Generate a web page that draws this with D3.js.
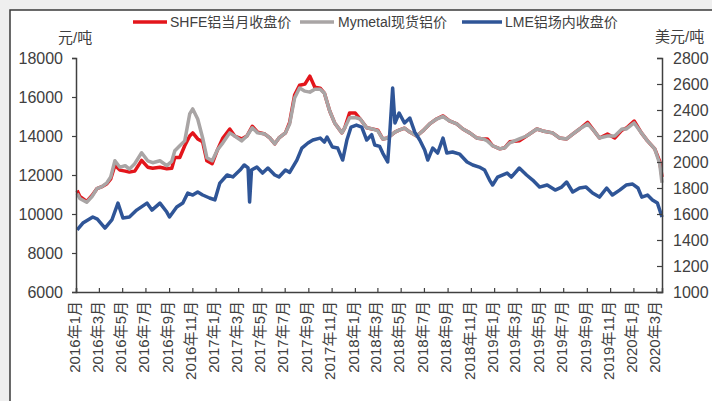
<!DOCTYPE html>
<html>
<head>
<meta charset="utf-8">
<script src="https://cdn.jsdelivr.net/npm/d3@7"></script>
<style>
  body { margin: 0; background: #efefef; }
  svg { display: block; font-family: "Liberation Sans", "Noto Sans CJK SC", sans-serif; }
</style>
</head>
<body>
<script>
// chart data
const shfeDates = ["2016-01-04","2016-01-11","2016-01-29","2016-02-12","2016-02-25","2016-03-09","2016-03-22","2016-04-01","2016-04-12","2016-04-25",
  "2016-05-09","2016-05-20","2016-06-03","2016-06-21","2016-07-07","2016-07-20","2016-08-08","2016-08-26","2016-09-08","2016-09-16",
  "2016-09-29","2016-10-12","2016-10-25","2016-11-02","2016-11-15","2016-11-28","2016-12-09","2016-12-23","2017-01-06","2017-01-20",
  "2017-02-07","2017-02-20","2017-03-10","2017-03-24","2017-04-07","2017-04-21","2017-05-10","2017-05-23","2017-06-05","2017-06-16",
  "2017-07-03","2017-07-14","2017-07-27","2017-08-09","2017-08-23","2017-09-05","2017-09-18","2017-10-02","2017-10-13","2017-10-27",
  "2017-11-09","2017-11-28","2017-12-05","2017-12-18","2018-01-02","2018-01-15","2018-02-01","2018-02-16","2018-03-02","2018-03-15",
  "2018-03-28","2018-04-16","2018-04-27","2018-05-11","2018-05-25","2018-06-12","2018-06-28","2018-07-16","2018-08-03","2018-08-20",
  "2018-09-06","2018-09-25","2018-10-11","2018-10-29","2018-11-16","2018-12-03","2018-12-14","2018-12-28","2019-01-16","2019-01-29",
  "2019-02-11","2019-03-08","2019-03-27","2019-04-23","2019-05-08","2019-06-03","2019-06-21","2019-07-10","2019-07-26","2019-08-13",
  "2019-09-03","2019-09-20","2019-10-04","2019-10-25","2019-11-13","2019-12-02","2019-12-13","2020-01-03","2020-01-22","2020-02-07",
  "2020-02-26","2020-03-10","2020-03-16"];

const shfe = [11200,10900,10650,10950,11300,11400,11550,11800,12500,12250,
  12200,12150,12200,12750,12400,12350,12400,12320,12350,12900,
  12900,13500,14000,14160,13850,13700,12730,12580,13300,13900,
  14360,14000,13850,14000,14500,14200,14100,13900,13600,13900,
  14160,14700,16100,16600,16660,17070,16500,16450,16200,15280,
  14670,14160,14400,15180,15180,14870,14420,14360,14300,13850,
  13900,14200,14300,14400,14200,14000,14260,14620,14870,15030,
  14770,14620,14360,14160,13900,13850,13850,13500,13340,13400,
  13700,13750,14000,14360,14260,14160,13900,13850,14100,14360,
  14700,14260,13900,14100,13900,14300,14400,14770,14160,13750,
  13340,12700,11900];

const mymetal = [11050,10800,10600,10900,11300,11400,11600,11900,12730,12400,
  12480,12300,12580,13140,12730,12630,12730,12480,12700,13240,
  13500,13750,15130,15390,14870,13900,12890,12730,13300,13650,
  14160,14000,13750,14000,14420,14160,14100,13900,13600,13900,
  14160,14620,15950,16460,16300,16250,16400,16400,16200,15280,
  14670,14160,14400,14930,14950,14870,14420,14360,14260,13850,
  13900,14200,14300,14400,14200,14000,14260,14620,14870,15000,
  14770,14620,14360,14160,13900,13850,13750,13500,13340,13400,
  13650,13850,14000,14360,14260,14160,13900,13850,14100,14360,
  14620,14260,13900,14000,14000,14360,14360,14670,14160,13750,
  13340,12580,11600];

const lmeDates = ["2016-01-04","2016-01-19","2016-02-14","2016-02-26","2016-03-17","2016-04-04","2016-04-20","2016-05-03","2016-05-20","2016-06-08",
  "2016-07-05","2016-07-18","2016-08-08","2016-08-26","2016-09-02","2016-09-21","2016-10-07","2016-10-20","2016-11-02","2016-11-15",
  "2016-11-28","2016-12-16","2016-12-30","2017-01-12","2017-01-31","2017-02-15","2017-03-06","2017-03-17","2017-03-27","2017-03-31",
  "2017-04-05","2017-04-19","2017-05-04","2017-05-18","2017-06-05","2017-06-16","2017-07-03","2017-07-14","2017-08-02","2017-08-15",
  "2017-08-31","2017-09-13","2017-10-02","2017-10-13","2017-10-20","2017-11-03","2017-11-17","2017-11-30","2017-12-11","2017-12-22",
  "2018-01-05","2018-01-19","2018-02-01","2018-02-14","2018-02-22","2018-03-07","2018-03-15","2018-03-28","2018-04-02","2018-04-10",
  "2018-04-16","2018-04-27","2018-05-11","2018-05-25","2018-06-07","2018-06-20","2018-07-03","2018-07-11","2018-07-24","2018-08-06",
  "2018-08-20","2018-08-30","2018-09-14","2018-10-03","2018-10-22","2018-11-06","2018-11-23","2018-12-07","2018-12-20","2018-12-28",
  "2019-01-10","2019-02-04","2019-02-15","2019-03-08","2019-03-27","2019-04-12","2019-04-30","2019-05-20","2019-06-10","2019-06-27",
  "2019-07-10","2019-07-26","2019-08-13","2019-08-30","2019-09-16","2019-10-04","2019-10-23","2019-11-07","2019-11-26","2019-12-13",
  "2019-12-30","2020-01-13","2020-01-23","2020-02-07","2020-02-20","2020-03-04","2020-03-16"];

const lme = [1477,1530,1577,1560,1492,1554,1684,1569,1577,1630,
  1684,1630,1684,1615,1577,1654,1684,1761,1746,1769,
  1746,1723,1708,1838,1900,1885,1938,1977,1954,1692,
  1938,1961,1915,1954,1900,1885,1938,1920,2015,2107,
  2146,2169,2184,2153,2192,2115,2107,2015,2169,2269,
  2284,2269,2169,2210,2131,2120,2069,2000,2200,2569,
  2300,2377,2300,2338,2230,2169,2092,2015,2107,2069,
  2184,2069,2077,2060,2000,1977,1961,1938,1861,1823,
  1884,1915,1884,1954,1900,1861,1807,1823,1784,1807,
  1846,1769,1800,1807,1761,1730,1800,1746,1784,1823,
  1830,1800,1730,1746,1708,1684,1577];

const leftTicks = [6000, 8000, 10000, 12000, 14000, 16000, 18000];
const rightTicks = [1000, 1200, 1400, 1600, 1800, 2000, 2200, 2400, 2600, 2800];

const seriesNames = ["SHFE铝当月收盘价", "Mymetal现货铝价", "LME铝场内收盘价"];
const seriesColors = ["#e3151b", "#a9a5a5", "#2f5597"];

// layout
const width = 712, height = 401;
const plotLeft = 76, plotRight = 662, plotTop = 58, plotBottom = 292;

const parse = d3.timeParse("%Y-%m-%d");

const svg = d3.select("body").append("svg")
  .attr("width", width)
  .attr("height", height);

// frame
svg.append("rect")
  .attr("x", 10).attr("y", 10)
  .attr("width", 740).attr("height", 420)
  .attr("fill", "#fff")
  .attr("stroke", "#3a3a3a")
  .attr("stroke-width", 1.5);

// scales
const x = d3.scaleTime()
  .domain([parse("2016-01-01"), parse("2020-03-16")])
  .range([plotLeft, plotRight]);

const yL = d3.scaleLinear().domain([6000, 18000]).range([plotBottom, plotTop]);
const yR = d3.scaleLinear().domain([1000, 2800]).range([plotBottom, plotTop]);

// lines
const lineL = d3.line().x(d => x(d[0])).y(d => yL(d[1]));
const lineR = d3.line().x(d => x(d[0])).y(d => yR(d[1]));

const shfeData = shfeDates.map((d, i) => [parse(d), shfe[i]]);
const mymetalData = shfeDates.map((d, i) => [parse(d), mymetal[i]]);
const lmeData = lmeDates.map((d, i) => [parse(d), lme[i]]);

svg.append("path").datum(shfeData)
  .attr("d", lineL).attr("fill", "none")
  .attr("stroke", seriesColors[0]).attr("stroke-width", 3.5)
  .attr("stroke-linejoin", "round");

svg.append("path").datum(mymetalData)
  .attr("d", lineL).attr("fill", "none")
  .attr("stroke", seriesColors[1]).attr("stroke-width", 3.5)
  .attr("stroke-linejoin", "round");

svg.append("path").datum(lmeData)
  .attr("d", lineR).attr("fill", "none")
  .attr("stroke", seriesColors[2]).attr("stroke-width", 3.5)
  .attr("stroke-linejoin", "round");

// axes
const axisColor = "#404040";
const textColor = "#404040";

const leftAxis = svg.append("g")
  .attr("transform", "translate(" + plotLeft + ",0)")
  .call(d3.axisLeft(yL).tickValues(leftTicks).tickSize(4).tickPadding(9)
    .tickFormat(d3.format("d")));

const rightAxis = svg.append("g")
  .attr("transform", "translate(" + plotRight + ",0)")
  .call(d3.axisRight(yR).tickValues(rightTicks).tickSize(-5).tickPadding(11)
    .tickFormat(d3.format("d")));

const months = d3.timeMonth.every(2).range(parse("2016-01-01"), parse("2020-03-02"));
const bottomAxis = svg.append("g")
  .attr("transform", "translate(0," + plotBottom + ")")
  .call(d3.axisBottom(x).tickValues(months).tickSize(-4)
    .tickFormat(d => d.getFullYear() + "年" + (d.getMonth() + 1) + "月"));

bottomAxis.selectAll("text")
  .attr("transform", "rotate(-90)")
  .attr("text-anchor", "end")
  .attr("x", -9)
  .attr("y", -2)
  .attr("dy", "0.35em")
  .style("font-size", "15px");

[leftAxis, rightAxis, bottomAxis].forEach(g => {
  g.select(".domain").attr("stroke", axisColor).attr("stroke-width", 1.5);
  g.selectAll(".tick line").attr("stroke", axisColor).attr("stroke-width", 1.2);
  g.selectAll("text").attr("fill", textColor);
  g.attr("font-family", null);
});
leftAxis.selectAll("text").style("font-size", "16px");
rightAxis.selectAll("text").style("font-size", "16px");

// unit labels
svg.append("text").attr("x", 58).attr("y", 43)
  .attr("fill", textColor).style("font-size", "15px").text("元/吨");
svg.append("text").attr("x", 655).attr("y", 42)
  .attr("fill", textColor).style("font-size", "15px").text("美元/吨");

// legend
const legendItems = [
  { x1: 133, x2: 167, tx: 170 },
  { x1: 300, x2: 334, tx: 338 },
  { x1: 462, x2: 502, tx: 505 }
];
legendItems.forEach((p, i) => {
  svg.append("line")
    .attr("x1", p.x1).attr("x2", p.x2)
    .attr("y1", 22).attr("y2", 22)
    .attr("stroke", seriesColors[i]).attr("stroke-width", 3.5);
  svg.append("text")
    .attr("x", p.tx).attr("y", 27)
    .attr("fill", textColor)
    .style("font-size", "14px")
    .text(seriesNames[i]);
});
</script>
</body>
</html>
